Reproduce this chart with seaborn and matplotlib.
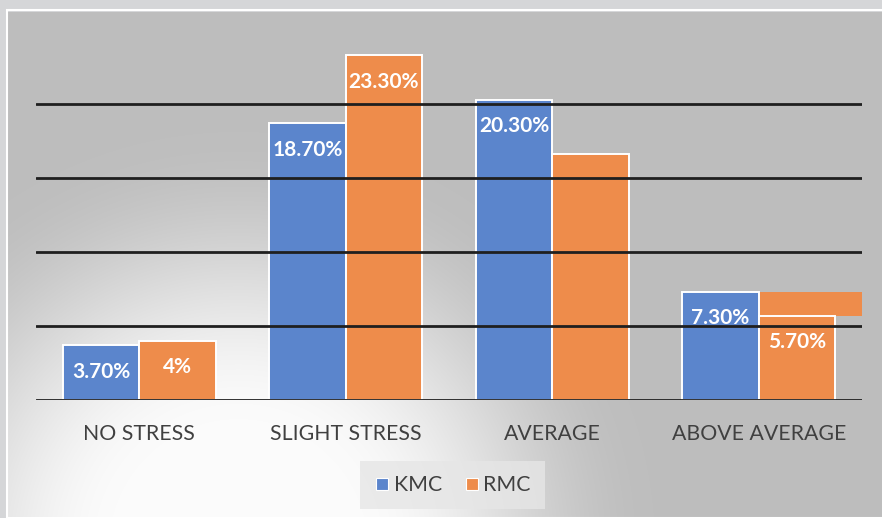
import numpy as np
import pandas as pd
import matplotlib
matplotlib.use("Agg")
import matplotlib.pyplot as plt
from matplotlib.lines import Line2D
from matplotlib.patches import Rectangle
import seaborn as sns

# Stress levels reported in the two groups (percent of respondents)
categories = ["NO STRESS", "SLIGHT STRESS", "AVERAGE", "ABOVE AVERAGE"]
groups = ["KMC", "RMC"]
kmc_values = [3.7, 18.7, 20.3, 7.3]
rmc_values = [4.0, 23.3, 16.6, 5.7]
kmc_labels = ["3.70%", "18.70%", "20.30%", "7.30%"]
rmc_labels = ["4%", "23.30%", "", "5.70%"]

sns.set_theme(style="white")
plt.rcParams["font.family"] = ["Lato", "DejaVu Sans"]

blue = "#5b85cc"
orange = "#ee8c4b"
text_grey = "#404040"

W, H = 882, 518
fig = plt.figure(figsize=(W / 100, H / 100), dpi=100)
fig.patch.set_facecolor("#d5d6d8")

# Panel with a soft radial shading: light near the lower left, grey elsewhere
bg = fig.add_axes([8 / W, 0, 1 - 8 / W, (H - 12) / H])
bg.set_axis_off()
pw, ph = W - 8, H - 12
yy, xx = np.mgrid[0:ph, 0:pw]
d = np.hypot(xx - 230, yy - (ph + 30))
t = np.clip((d - 120) / (420 - 120), 0, 1)
t = t * t * (3 - 2 * t)
light, dark = 0.985, 0.745
img = light * (1 - t) + dark * t
bg.imshow(np.dstack([img, img, img]), aspect="auto", extent=(0, 1, 0, 1), origin="upper")
bg.set_xlim(0, 1)
bg.set_ylim(0, 1)
fig.patches.append(Rectangle((7 / W, 0), 1, (H - 10) / H, transform=fig.transFigure,
                             fill=False, edgecolor="white", linewidth=1.5, zorder=5))

# Plot area
px_per_unit = 14.8
y_top = 25.0
ax_left, ax_right = 36, 862
ax_base = 400
ax_h = y_top * px_per_unit
ax = fig.add_axes([ax_left / W, (H - ax_base) / H, (ax_right - ax_left) / W, ax_h / H])
ax.patch.set_alpha(0)

df = pd.DataFrame({
    "category": categories * 2,
    "group": ["KMC"] * 4 + ["RMC"] * 4,
    "value": kmc_values + rmc_values,
})
sns.barplot(data=df, x="category", y="value", hue="group", order=categories,
            hue_order=groups, palette=[blue, orange], width=0.74, errorbar=None,
            edgecolor="white", linewidth=1.4, saturation=1, ax=ax, legend=False, zorder=2)

ax.set_xlim(-0.5, 3.5)
ax.set_ylim(0, y_top)

# Extra orange block sitting beside the RMC bar of the last category
rmc_last = ax.containers[1][3]
ext_left = rmc_last.get_x()
ax.add_patch(Rectangle((ext_left, rmc_values[3]), 3.5 - ext_left,
                       kmc_values[3] - rmc_values[3], facecolor=orange,
                       edgecolor="none", zorder=1.9))

# Horizontal rules drawn over the bars
for yv in [0, 5, 10, 15, 20]:
    ax.axhline(yv, color="#1f1f1f", linewidth=2.0, zorder=3)

# Value labels inside the bar tops
for container, labels in zip(ax.containers, [kmc_labels, rmc_labels]):
    for bar, lab in zip(container, labels):
        if not lab:
            continue
        ax.annotate(lab, (bar.get_x() + bar.get_width() / 2, bar.get_height()),
                    xytext=(0, -19), textcoords="offset points", ha="center",
                    va="center", color="white", fontsize=15, fontweight="bold",
                    zorder=4)

for s in ax.spines.values():
    s.set_visible(False)
ax.set_yticks([])
ax.set_xlabel("")
ax.set_ylabel("")
ax.tick_params(axis="x", length=0, pad=17, labelsize=15.3, labelcolor=text_grey)

handles = [Line2D([], [], marker="s", linestyle="none", markersize=8,
                  markerfacecolor=c, markeredgecolor="white", markeredgewidth=0.8)
           for c in (blue, orange)]
leg = fig.legend(handles, groups, loc="center", bbox_to_anchor=(452 / W, 1 - 485 / H),
                 ncol=2, frameon=True, fontsize=15.3, handletextpad=0.15,
                 columnspacing=1.0, borderpad=0.45, handlelength=0.8,
                 labelcolor=text_grey)
leg.get_frame().set_facecolor("#e6e6e6")
leg.get_frame().set_edgecolor("none")
leg.get_frame().set_alpha(0.8)
leg.get_frame().set_boxstyle("square", pad=0.2)

fig.savefig("out.png", dpi=100)
